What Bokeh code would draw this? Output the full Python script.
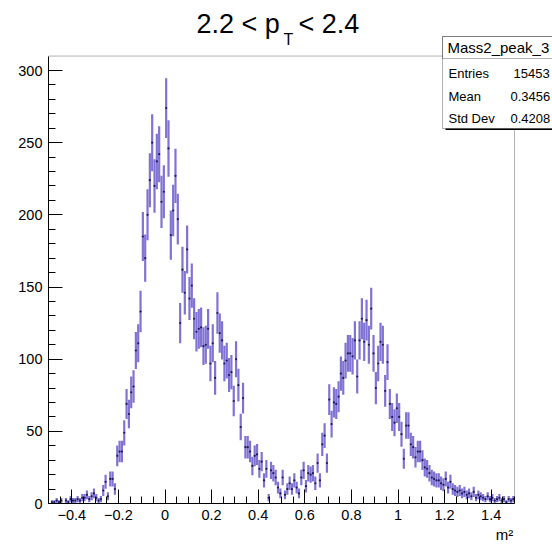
import numpy as np
from bokeh.plotting import figure
from bokeh.models import (FixedTicker, Label, BoxAnnotation, ColumnDataSource, Range1d,
                          LinearAxis)
from bokeh.embed import file_html
from bokeh.resources import INLINE

# ---------------- data ----------------
X_MIN, X_MAX = -0.5, 1.5
N_BINS = 200
Y_MAX = 310

COUNTS = [
    0, 1, 1, 2, 1, 2, 0, 2, 1, 3,
    2, 2, 3, 2, 4, 4, 6, 3, 5, 7,
    4, 2, 3, 9, 15, 5, 17, 17, 10, 33,
    36, 36, 49, 69, 62, 77, 81, 106, 111, 133,
    185, 170, 200, 224, 250, 220, 237, 242, 209, 216,
    274, 246, 186, 203, 227, 197, 125, 162, 146, 176,
    142, 151, 128, 119, 121, 122, 109, 110, 121, 97,
    111, 87, 132, 118, 113, 97, 99, 89, 91, 71,
    100, 82, 53, 73, 39, 39, 36, 26, 33, 34,
    24, 29, 16, 24, 4, 23, 21, 18, 11, 7,
    18, 6, 10, 14, 10, 16, 11, 7, 18, 23,
    12, 21, 20, 21, 14, 28, 16, 41, 47, 28,
    72, 55, 70, 69, 74, 90, 87, 99, 104, 104,
    102, 113, 88, 113, 128, 112, 127, 110, 135, 104,
    80, 97, 112, 110, 78, 98, 69, 60, 56, 66,
    60, 48, 31, 54, 54, 41, 39, 32, 36, 36,
    30, 25, 24, 21, 18, 17, 16, 16, 14, 13,
    17, 11, 15, 10, 9, 8, 9, 7, 8, 6,
    7, 5, 8, 4, 6, 5, 4, 3, 5, 3,
    4, 2, 3, 4, 2, 3, 1, 3, 2, 3,
]
ERR_SCALE = 1.25  # sumw2 scale of the per-bin Poisson errors

X_TICKS = [-0.4, -0.2, 0.0, 0.2, 0.4, 0.6, 0.8, 1.0, 1.2, 1.4]
X_TICK_LABELS = ["\u22120.4", "\u22120.2", "0", "0.2", "0.4", "0.6", "0.8", "1", "1.2", "1.4"]
Y_TICKS = [0, 50, 100, 150, 200, 250, 300]

TITLE_PARTS = ("2.2 < p", "T", "< 2.4")
X_LABEL = "m\u00b2"
X_LABEL_POS = 1.457
STATS_NAME = "Mass2_peak_3"
STATS_LABELS = ["Entries", "Mean", "Std Dev"]
STATS_VALUES = ["15453", "0.3456", "0.4208"]

# ---------------- layout (page pixels) ----------------
W, H = 552, 547
HIST_L, HIST_R = 48, 514      # page x of x = X_MIN .. X_MAX
HIST_B = 503                  # page y of y = 0
PX_X = (HIST_R - HIST_L) / (X_MAX - X_MIN)
PX_Y = 433 / 300.0            # pixels per count
FONT = "Liberation Sans"
BAR_COLOR = "#7a6cd2"
DOT_COLOR = "#1c1c58"


def dx(px):
    return X_MIN + (px - HIST_L) / PX_X


def dy(py):
    return (HIST_B - py) / PX_Y


p = figure(width=W, height=H,
           x_range=Range1d(X_MIN, dx(W)), y_range=Range1d(0, dy(0)),
           output_backend="svg", toolbar_location=None,
           min_border_left=HIST_L, min_border_right=0, min_border_top=0,
           min_border_bottom=H - HIST_B)
p.xgrid.visible = False
p.ygrid.visible = False
p.outline_line_color = None
p.background_fill_color = "white"
p.border_fill_color = "white"

x_minor = [round(v, 3) for v in np.arange(X_MIN, X_MAX + 1e-9, 0.05)]
y_minor = list(range(0, 301, 10))
p.xaxis.ticker = FixedTicker(ticks=X_TICKS, minor_ticks=x_minor)
p.yaxis.ticker = FixedTicker(ticks=Y_TICKS, minor_ticks=y_minor)
p.xaxis.major_label_overrides = dict(zip(X_TICKS, X_TICK_LABELS))
p.xaxis.bounds = (X_MIN, X_MAX)
p.yaxis.bounds = (0, Y_MAX)
for ax in (p.xaxis, p.yaxis):
    ax.major_tick_in = 14
    ax.major_tick_out = 0
    ax.minor_tick_in = 7
    ax.minor_tick_out = 0
    ax.axis_line_color = "black"
    ax.major_tick_line_color = "black"
    ax.minor_tick_line_color = "black"
    ax.major_label_text_font = FONT
    ax.major_label_text_font_size = "14.5px"
    ax.major_label_text_color = "black"
p.xaxis.major_label_standoff = 6
p.yaxis.major_label_standoff = 6

# second (line-less) axis below: its single tick label is the right-aligned axis title
lab_axis = LinearAxis(ticker=FixedTicker(ticks=[X_LABEL_POS], minor_ticks=[]),
                      major_label_overrides={X_LABEL_POS: X_LABEL},
                      axis_line_color=None, major_tick_line_color=None,
                      minor_tick_line_color=None, major_tick_in=0, major_tick_out=0,
                      minor_tick_in=0, minor_tick_out=0, major_label_standoff=3,
                      major_label_text_font=FONT, major_label_text_font_size="15px",
                      major_label_text_color="black")
p.add_layout(lab_axis, "below")

# histogram frame (top and right edges)
p.add_layout(BoxAnnotation(left=X_MIN, right=X_MAX, bottom=0, top=Y_MAX,
                           fill_alpha=0, line_color="black", line_width=1))

# ---------------- histogram ----------------
counts = np.array(COUNTS, dtype=float)
width = (X_MAX - X_MIN) / N_BINS
centers = X_MIN + (np.arange(N_BINS) + 0.5) * width
errs = ERR_SCALE * np.sqrt(counts)
mask = counts > 0
lo = np.clip(counts - errs, 0, Y_MAX)
hi = np.clip(counts + errs, 0, Y_MAX)
src = ColumnDataSource(dict(x=centers[mask], y=counts[mask], lo=lo[mask], hi=hi[mask]))
p.segment(x0="x", y0="lo", x1="x", y1="hi", source=src, line_color=BAR_COLOR,
          line_width=2.2, line_alpha=0.95)
p.scatter(x="x", y="y", source=src, size=2.2, color=DOT_COLOR, line_width=0)

# ---------------- title ----------------
p.add_layout(Label(x=dx(196), y=dy(23), text=TITLE_PARTS[0], text_font=FONT,
                   text_font_size="27px", text_align="left", text_baseline="middle",
                   text_color="black"))
p.add_layout(Label(x=dx(283), y=dy(38.5), text=TITLE_PARTS[1], text_font=FONT,
                   text_font_size="16px", text_align="left", text_baseline="middle",
                   text_color="black"))
p.add_layout(Label(x=dx(298), y=dy(23), text=TITLE_PARTS[2], text_font=FONT,
                   text_font_size="27px", text_align="left", text_baseline="middle",
                   text_color="black"))

# ---------------- stats box ----------------
BOX_L, BOX_T, BOX_B, BOX_SEP = 442, 36, 128, 58
p.add_layout(BoxAnnotation(left=dx(BOX_L + 3), right=dx(W + 40), top=dy(BOX_T + 3),
                           bottom=dy(BOX_B + 1.5), fill_color="black", fill_alpha=1,
                           line_alpha=0))
p.add_layout(BoxAnnotation(left=dx(BOX_L), right=dx(W + 40), top=dy(BOX_T), bottom=dy(BOX_B),
                           fill_color="white", fill_alpha=1, line_color="black",
                           line_width=1))
p.add_layout(BoxAnnotation(left=dx(BOX_L), right=dx(W + 40), top=dy(BOX_T), bottom=dy(BOX_SEP),
                           fill_alpha=0, line_color="black", line_width=1))
p.add_layout(Label(x=dx(447), y=dy(47), text=STATS_NAME, text_font=FONT,
                   text_font_size="15px", text_align="left", text_baseline="middle",
                   text_color="black"))
row_y = [73, 96, 118]
val_x = [513, 510, 510]
for lab, val, yy, vx in zip(STATS_LABELS, STATS_VALUES, row_y, val_x):
    p.add_layout(Label(x=dx(448), y=dy(yy), text=lab, text_font=FONT,
                       text_font_size="13px", text_align="left", text_baseline="middle",
                       text_color="black"))
    p.add_layout(Label(x=dx(vx), y=dy(yy), text=val, text_font=FONT,
                       text_font_size="13px", text_align="left", text_baseline="middle",
                       text_color="black"))

open("out.html", "w").write(file_html(p, INLINE))
